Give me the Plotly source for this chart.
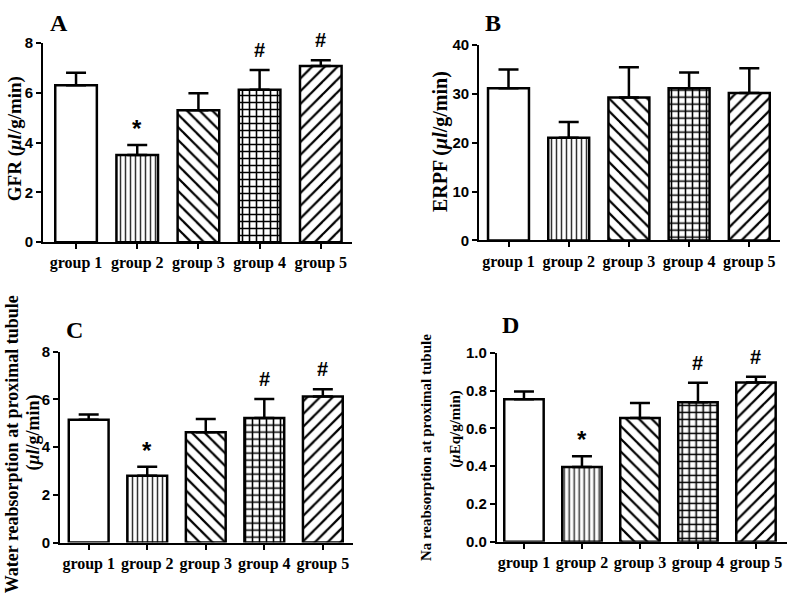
import plotly.graph_objects as go

categories = ["group 1", "group 2", "group 3", "group 4", "group 5"]

gfr_mean = [6.3, 3.5, 5.3, 6.12, 7.08]
gfr_sem = [0.5, 0.4, 0.68, 0.8, 0.23]
gfr_sig = ["", "*", "", "#", "#"]

erpf_mean = [31.1, 21.0, 29.2, 31.1, 30.1]
erpf_sem = [3.8, 3.2, 6.2, 3.2, 5.1]
erpf_sig = ["", "", "", "", ""]

water_mean = [5.15, 2.8, 4.62, 5.22, 6.12]
water_sem = [0.22, 0.38, 0.56, 0.8, 0.3]
water_sig = ["", "*", "", "#", "#"]

na_mean = [0.755, 0.395, 0.655, 0.738, 0.843]
na_sem = [0.04, 0.057, 0.08, 0.104, 0.031]
na_sig = ["", "*", "", "#", "#"]

pattern_shapes = ["", "|", "\\", "+", "/"]
pattern_sizes = [8, 5, 9, 7, 9]
pattern_solid = [0.2, 0.3, 0.25, 0.4, 0.25]
pattern_fg = ["black", "#333333", "black", "black", "black"]

SERIF = "Liberation Serif, Times New Roman, serif"
SANS = "Liberation Sans, Arial, sans-serif"

panels = [
    dict(mean=gfr_mean, sem=gfr_sem, sig=gfr_sig, yrange=[0, 8], dtick=2, fmt="",
         xdom=[43 / 789, 352 / 789], ydom=[1 - 240 / 595, 1 - 35 / 595], xrange=[-0.54, 4.51]),
    dict(mean=erpf_mean, sem=erpf_sem, sig=erpf_sig, yrange=[0, 40], dtick=10, fmt="",
         xdom=[479 / 789, 780 / 789], ydom=[1 - 238.3 / 595, 1 - 36.7 / 595], xrange=[-0.49, 4.51]),
    dict(mean=water_mean, sem=water_sem, sig=water_sig, yrange=[0, 8], dtick=2, fmt="",
         xdom=[60 / 789, 352.7 / 789], ydom=[1 - 549.3 / 595, 1 - 352.7 / 595], xrange=[-0.49, 4.51]),
    dict(mean=na_mean, sem=na_sem, sig=na_sig, yrange=[0, 1.0], dtick=0.2, fmt=".1f",
         xdom=[496.7 / 789, 786.7 / 789], ydom=[1 - 548.3 / 595, 1 - 354 / 595], xrange=[-0.47, 4.53]),
]

fig = go.Figure()
layout = dict(width=789, height=595, margin=dict(l=0, r=0, t=0, b=0),
              paper_bgcolor="white", plot_bgcolor="white", showlegend=False)
annotations = []

for i, p in enumerate(panels):
    n = "" if i == 0 else str(i + 1)
    fig.add_trace(go.Bar(
        x=categories, y=p["mean"], width=0.68,
        xaxis="x" + n, yaxis="y" + n,
        marker=dict(color="white", line=dict(color="black", width=2.5),
                    pattern=dict(shape=pattern_shapes, size=pattern_sizes,
                                 solidity=pattern_solid, fgcolor=pattern_fg,
                                 fgopacity=1, bgcolor="white", fillmode="replace")),
        error_y=dict(type="data", symmetric=False, array=p["sem"], arrayminus=[0] * 5,
                     color="black", thickness=2.5, width=10),
        hoverinfo="skip",
    ))
    layout["xaxis" + n] = dict(domain=p["xdom"], anchor="y" + n, range=p["xrange"],
                               showline=True, linecolor="black", linewidth=1.8,
                               ticks="outside", ticklen=5, tickwidth=1.5, tickcolor="black",
                               showgrid=False, zeroline=False,
                               tickfont=dict(family=SERIF, size=16, color="black", weight="bold"))
    layout["yaxis" + n] = dict(domain=p["ydom"], anchor="x" + n, range=p["yrange"],
                               dtick=p["dtick"], tickformat=p["fmt"],
                               showline=True, linecolor="black", linewidth=1.8,
                               ticks="outside", ticklen=5, tickwidth=1.5, tickcolor="black",
                               showgrid=False, zeroline=False,
                               tickfont=dict(family=SANS, size=15, color="black", weight="bold"))
    for c, m, s, g in zip(categories, p["mean"], p["sem"], p["sig"]):
        if g:
            annotations.append(dict(x=c, y=m + s, xref="x" + n, yref="y" + n, text=g,
                                    showarrow=False, yanchor="bottom",
                                    yshift=7 if g == "#" else 1,
                                    font=dict(family=SANS, size=20 if g == "#" else 24,
                                              color="black", weight="bold")))

# Panel letters
for txt, x, y in [("A", 59, 14), ("B", 493, 14), ("C", 74, 330), ("D", 510, 325)]:
    annotations.append(dict(x=x / 789, y=1 - y / 595, xref="paper", yref="paper", text=txt,
                            showarrow=False, xanchor="center", yanchor="middle",
                            font=dict(family=SERIF, size=24, color="black", weight="bold")))

# Axis titles
titles = [
    ("GFR (<i>μl</i>/g/min)", 15, 134, 19),
    ("ERPF (<i>μl</i>/g/min)", 440, 136, 20),
    ("Water reabsorption at proximal tubule", 12, 448, 18),
    ("(<i>μl</i>/g/min)", 34, 436, 18),
    ("Na reabsorption at proximal tubule", 426, 451, 15),
    ("(<i>μ</i>Eq/g/min)", 456, 432, 15),
]
for txt, x, y, sz in titles:
    annotations.append(dict(x=x / 789, y=1 - y / 595, xref="paper", yref="paper", text=txt,
                            showarrow=False, textangle=-90, xanchor="center", yanchor="middle",
                            font=dict(family=SERIF, size=sz, color="black", weight="bold")))

layout["annotations"] = annotations
fig.update_layout(**layout)
fig.write_html("out.html", config={"displayModeBar": False},
               post_script="document.body.style.margin='0';")
